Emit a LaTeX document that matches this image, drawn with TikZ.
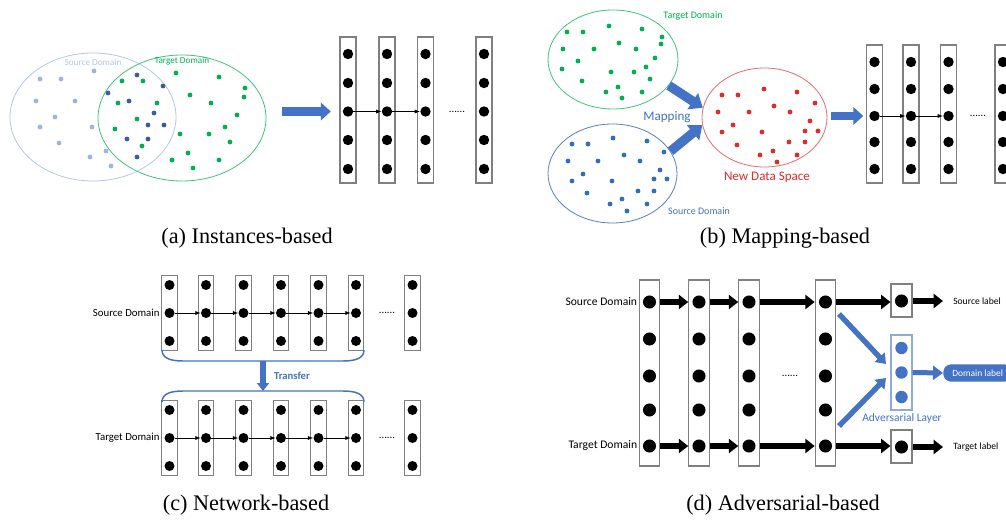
\documentclass[tikz,border=0pt]{standalone}
\usepackage{fontspec}
\setmainfont{Liberation Serif}
\newfontfamily\calib{Carlito}
\usetikzlibrary{arrows.meta,shapes.geometric}
\definecolor{mblue}{HTML}{4472C4}
\definecolor{mgreen}{HTML}{00B050}
\definecolor{lsrc}{HTML}{B4C7E7}
\definecolor{lsrcdot}{HTML}{9FB3DD}
\definecolor{dkblue}{HTML}{3B5BA9}
\definecolor{sblue}{HTML}{2E6EBD}
\definecolor{mred}{HTML}{E02B2B}
\definecolor{boxgray}{HTML}{808080}
\begin{document}
\begin{tikzpicture}[x=0.75pt,y=-0.75pt,
  neuron/.style={circle,fill=black,inner sep=0pt,minimum size=#1},
  neuron/.default=7.8pt,
  layerbox/.style={draw=boxgray,line width=0.8pt,inner sep=0pt,minimum width=12pt,minimum height=#1},
  dataspace/.style={ellipse,inner sep=0pt,line width=0.6pt},
  lbl/.style={inner sep=1pt,font=\calib\fontsize{#1}{#1}\selectfont},
  capt/.style={inner sep=0pt,font=\fontsize{16.7}{20}\selectfont},
  thinarr/.style={line width=0.5pt,-{Latex[length=4pt,width=3pt]}},
  bigarrow/.style={draw=mblue,line width=6.5pt,-{Triangle[length=7.5pt,width=13pt]}},
  blkarrow/.style={draw=black,line width=4.3pt,-{Triangle[length=7pt,width=10.5pt]}},
  bluearrow/.style={draw=mblue,line width=4pt,-{Triangle[length=7pt,width=10pt]}},
  brk/.style={draw=mblue,line width=1.1pt}
]
\clip (0,0) rectangle (1006,521);
\fill[white] (0,0) rectangle (1006,521);

%================ (a) Instances-based ================
\node[dataspace,draw=lsrc,minimum width=124.5pt,minimum height=96pt] (sA) at (93,117) {};
\node[dataspace,draw=mgreen!75,minimum width=126pt,minimum height=94.5pt] (tA) at (182,118) {};
\node[lbl=6.9,text=lsrc] (sAl) at (93,62) {Source Domain};
\node[lbl=6.9,text=mgreen] (tAl) at (182,61) {Target Domain};
\foreach \x/\y in {94/71,40/79,61/79,36/101,75/101,55/117,40/127,92/127,59/143,106/151,90/157,111/166}
  \fill[lsrcdot] (\x,\y) circle (1.8pt);
\foreach \x/\y in {137/75,163/86,108/93,129/101,154/113,148/125,164/125,127/139,148/139,137/157}
  \fill[dkblue] (\x,\y) circle (1.8pt);
\foreach \x/\y in {176/73,122/81,143/81,219/77,245/88,244/97,190/95,118/103,157/103,211/103,237/115,137/119,225/127,115/129,180/134,209/134,230/142,142/146,188/153,172/160,219/160,193/168}
  \fill[mgreen] (\x,\y) circle (1.8pt);
\foreach \i/\x in {1/348,2/387,3/425.5,4/484}{
  \node[layerbox=109.5pt] (a\i) at (\x,110) {};
  \foreach \j/\y in {1/54,2/83,3/111.5,4/140,5/169}
    \node[neuron] (a\i-\j) at (\x,\y) {};
}
\draw[thinarr] (a1-3) -- (a2-3);
\draw[thinarr] (a2-3) -- (a3-3);
\node[lbl=8] (adots) at (457,111.5) {......};
\draw[bigarrow,shorten <=12pt,shorten >=6.5pt] (tA.east |- a1-3) -- (a1.west |- a1-3);
\node[capt] (capA) at (247,238) {(a) Instances-based};

%================ (b) Mapping-based ================
\node[dataspace,draw=mgreen!75,minimum width=97.5pt,minimum height=74.25pt] (tB) at (613,59.5) {};
\node[dataspace,draw=mblue!90,minimum width=96.75pt,minimum height=74.25pt] (sB) at (612.5,173.5) {};
\node[dataspace,draw=mred!70,minimum width=93.75pt,minimum height=74.25pt] (rB) at (764.5,117.5) {};
\node[lbl=7.5,text=mgreen] (tBl) at (693,16) {Target Domain};
\node[lbl=7.5,text=mblue] (sBl) at (699,211) {Source Domain};
\node[lbl=9.8,text=mred] (rBl) at (767,177) {New Data Space};
\node[lbl=9.8,text=mblue] (mapl) at (667,117) {Mapping};
\foreach \x/\y in {567/32,583/32,609/26,642/29,662/37,661/44,619/43,563/49,594/49,636/49,655/58,578/61,562/69,646/67,611/72,634/72,650/79,582/81,618/87,606/92,642/92,622/98}
  \fill[mgreen] (\x,\y) circle (1.8pt);
\foreach \x/\y in {613/138,647/141,572/144,588/144,664/152,624/155,568/161,598/161,640/161,660/170,583/174,572/181,612/181,654/179,667/179,638/191,654/191,587/193,622/199,610/204,647/204,627/211}
  \fill[sblue] (\x,\y) circle (1.8pt);
\foreach \x/\y in {722/95,738/95,764/89,797/92,815/103,774/106,718/112,749/112,790/112,810/121,733/125,805/131,818/131,722/132,762/132,789/142,805/142,737/145,773/151,760/155,797/155,777/162}
  \fill[mred] (\x,\y) circle (1.8pt);
\draw[bigarrow,line width=7pt,-{Triangle[length=9pt,width=14pt]}] (tB.-25) -- (rB.171);
\draw[bigarrow,line width=7pt,-{Triangle[length=9pt,width=14pt]}] (sB.21) -- (rB.187);
\foreach \i/\x in {1/874.5,2/911,3/948.5,4/1003}{
  \node[layerbox=103.5pt] (b\i) at (\x,114) {};
  \foreach \j/\y in {1/62,2/89,3/116,4/142,5/169}
    \node[neuron] (b\i-\j) at (\x,\y) {};
}
\draw[thinarr] (b1-3) -- (b2-3);
\draw[thinarr] (b2-3) -- (b3-3);
\node[lbl=8] (bdots) at (978,116) {......};
\draw[bigarrow,line width=6pt,shorten <=3pt,shorten >=2pt] (rB.east |- b1-3) -- (b1.west |- b1-3);
\node[capt] (capB) at (785,238) {(b) Mapping-based};

%================ (c) Network-based ================
\foreach \i/\x in {1/169.5,2/206,3/243.5,4/281,5/318.5,6/356,7/412.5}{
  \node[layerbox=56pt,minimum width=11.7pt] (ct\i) at (\x,313) {};
  \node[layerbox=56pt,minimum width=11.7pt] (cb\i) at (\x,438) {};
  \foreach \j/\y in {1/285,2/313,3/341}
    \node[neuron=7.5pt] (ct\i-\j) at (\x,\y) {};
  \foreach \j/\y in {1/410,2/438,3/466}
    \node[neuron=7.5pt] (cb\i-\j) at (\x,\y) {};
}
\foreach \i/\k in {1/2,2/3,3/4,4/5,5/6}{
  \draw[thinarr] (ct\i-2) -- (ct\k-2);
  \draw[thinarr] (cb\i-2) -- (cb\k-2);
}
\node[lbl=8.1,anchor=east] (cSl) at (ct1.west |- ct1-2) {Source Domain};
\node[lbl=8.1,anchor=east] (cTl) at (cb1.west |- cb1-2) {Target Domain};
\node[lbl=8] (ctdots) at (387,313) {......};
\node[lbl=8] (cbdots) at (387,438) {......};
\draw[brk] (162,350) .. controls (162,358) and (170,361) .. (183,361) -- (343,361) .. controls (356,361) and (364,358) .. (364,350);
\draw[brk] (162,402) .. controls (162,394) and (170,391) .. (183,391) -- (343,391) .. controls (356,391) and (364,394) .. (364,402);
\coordinate (brTop) at (263,361);
\coordinate (brBot) at (263,391);
\draw[bluearrow,line width=4pt,-{Triangle[length=6pt,width=9pt]}] (brTop) -- (brBot);
\node[lbl=8,text=mblue,font=\calib\bfseries\fontsize{8}{8}\selectfont] (trl) at (292,376) {Transfer};
\node[capt] (capC) at (246,505) {(c) Network-based};

%================ (d) Adversarial-based ================
\foreach \i/\x in {1/649.5,2/699,3/749,4/825.5}{
  \node[layerbox=139.5pt,minimum width=15.4pt] (p\i) at (\x,373) {};
  \foreach \j/\y in {1/302,2/339,3/376,4/410,5/446}
    \node[neuron=9.8pt] (p\i-\j) at (\x,\y) {};
}
\node[layerbox=24.75pt,minimum width=15.75pt] (so) at (901.5,300.5) {};
\node[neuron=9.8pt] (so-1) at (901.5,301) {};
\node[layerbox=24.75pt,minimum width=15.75pt] (tg) at (901.5,446.5) {};
\node[neuron=9.8pt] (tg-1) at (901.5,447) {};
\node[layerbox=56.25pt,minimum width=15.75pt,draw=mblue!60] (adv) at (901.5,372.5) {};
\foreach \j/\y in {1/348,2/372.5,3/397}
  \node[neuron=9.3pt,fill=mblue] (adv-\j) at (901.5,\y) {};
\node[lbl=8.7,anchor=east] (dSl) at (p1.west |- p1-1) {Source Domain};
\node[lbl=8.7,anchor=east] (dTl) at (p1.west |- p1-5) {Target Domain};
\node[lbl=7.2,anchor=west,inner xsep=7.5pt] (srcl) at (943,301) {Source label};
\node[lbl=7.2,anchor=west,inner xsep=7.5pt] (tgtl) at (943,447) {Target label};
\node[lbl=8.6,text=mblue] (advl) at (902,418) {Adversarial Layer};
\node[lbl=8] (ddots) at (790,376) {......};
\node[anchor=west,fill=mblue,text=white,rounded corners=6pt,inner xsep=6.75pt,minimum height=13pt,font=\calib\fontsize{7.1}{7.1}\selectfont] (dl) at (943,373) {Domain label};
\foreach \a/\b in {p1/p2,p2/p3,p3/p4,p4/so}{
  \draw[blkarrow] (\a.east |- p1-1) -- (\b.west |- p1-1);
}
\foreach \a/\b in {p1/p2,p2/p3,p3/p4,p4/tg}{
  \draw[blkarrow] (\a.east |- p1-5) -- (\b.west |- p1-5);
}
\draw[blkarrow] (so.east |- so-1) -- (srcl.west);
\draw[blkarrow] (tg.east |- tg-1) -- (tgtl.west);
\coordinate (u0) at (839,314);
\coordinate (u1) at (886,364);
\coordinate (l0) at (839,426);
\coordinate (l1) at (886,378);
\draw[bluearrow] (u0) -- (u1);
\draw[bluearrow] (l0) -- (l1);
\draw[bluearrow,line width=3.75pt,-{Triangle[length=7.5pt,width=10.5pt]}] (adv.east |- adv-2) -- (dl.west);
\node[capt] (capD) at (783,505) {(d) Adversarial-based};
\end{tikzpicture}
\end{document}
